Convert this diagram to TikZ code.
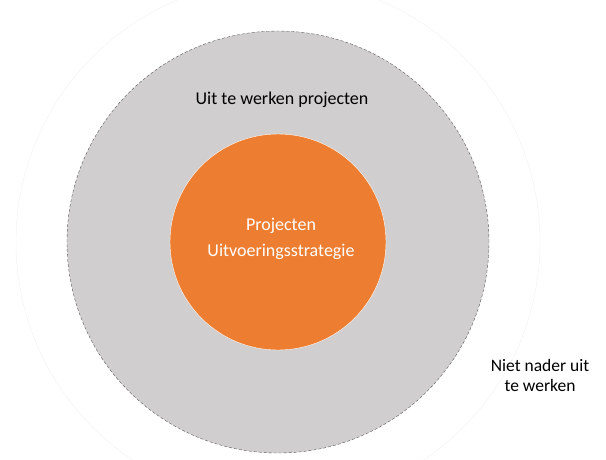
\documentclass[tikz,border=0pt]{standalone}
\usepackage{fontspec}
\setmainfont{Carlito}
\usepackage{tikz}

\definecolor{ringgray}{HTML}{D0CECE}
\definecolor{coreorange}{HTML}{ED7D31}

\begin{document}
\begin{tikzpicture}[x=1pt,y=-1pt]
            \useasboundingbox (0,0) rectangle (606,459);
            \clip (0,0) rectangle (606,459);

            \begin{scope}[every node/.style={circle,inner sep=0pt}]
                \node (O) [draw=black!6,minimum size=524pt] at (278,242) {};
                \node (G) [fill=ringgray,draw=black!65,densely dashed,thin,minimum size=422pt] at (278,242) {};
                \node (C) [fill=coreorange,draw=white,thin,minimum size=216pt] at (278,242) {};
            \end{scope}

            \begin{scope}[every node/.style={font=\fontsize{18}{21}\selectfont}]
                \node (uit) at (282,100) {Uit te werken projecten};
                \node (proj) [text=white] at (281,226) {Projecten};
                \node (strat) [text=white] at (281,252) {Uitvoeringsstrategie};
                \node (niet) [align=center,font=\fontsize{17.5}{20}\selectfont] at (540,375) {Niet nader uit\\te werken};
            \end{scope}
        \end{tikzpicture}
\end{document}
